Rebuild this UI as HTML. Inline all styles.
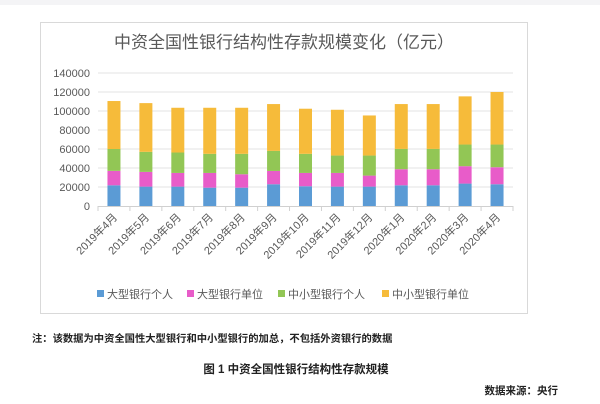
<!DOCTYPE html>
<html><head><meta charset="utf-8">
<style>
body{margin:0;background:#fff;width:600px;height:404px;overflow:hidden;font-family:"Liberation Sans","Noto Sans CJK SC",sans-serif;}
svg{position:absolute;left:0;top:0}
</style></head>
<body>
<svg width="600" height="404">
<rect x="0" y="0" width="600" height="5" fill="#f4f4f6"/>
<rect x="40.5" y="22.5" width="487" height="291" fill="#fff" stroke="#d9d9d9"/>
<text x="284" y="48" font-size="17" fill="#595959" text-anchor="middle">中资全国性银行结构性存款规模变化（亿元）</text>
<g id="grid"></g><g id="bars"></g><g id="xl"></g>
<g font-size="11" fill="#595959">
<rect x="97" y="290" width="7" height="7" fill="#5b9bd5"/><text x="107" y="298">大型银行个人</text>
<rect x="187" y="290" width="7" height="7" fill="#e85cc9"/><text x="197" y="298">大型银行单位</text>
<rect x="278" y="290" width="7" height="7" fill="#92c655"/><text x="288" y="298">中小型银行个人</text>
<rect x="382" y="290" width="7" height="7" fill="#f6bb3a"/><text x="392" y="298">中小型银行单位</text>
</g>
<text x="32" y="342" font-size="10.3" font-weight="bold" fill="#222">注：该数据为中资全国性大型银行和中小型银行的加总，不包括外资银行的数据</text>
<text x="296" y="373" font-size="11.5" font-weight="bold" fill="#222" text-anchor="middle">图 1 中资全国性银行结构性存款规模</text>
<text x="558" y="394" font-size="10.5" font-weight="bold" fill="#222" text-anchor="end">数据来源：央行</text>
</svg>
<script>
const categories=["2019年4月","2019年5月","2019年6月","2019年7月","2019年8月","2019年9月","2019年10月","2019年11月","2019年12月","2020年1月","2020年2月","2020年3月","2020年4月"];
const largePersonal=[21800,20400,20400,19300,19300,22900,20800,20400,20400,21800,21800,23600,22900];
const largeCorporate=[15200,15500,14400,15500,14100,14000,14000,14400,11600,16900,16900,18300,17900];
const smallPersonal=[23000,21100,21500,20100,21500,21100,20100,18300,21100,21400,21400,22800,23900];
const smallCorporate=[50500,51300,47100,48500,48500,49300,47500,48200,42200,47200,47200,50700,55300];
const yTicks=[0,20000,40000,60000,80000,100000,120000,140000];
const series=[[largePersonal,"#5b9bd5","large-personal"],[largeCorporate,"#e85cc9","large-corporate"],[smallPersonal,"#92c655","small-personal"],[smallCorporate,"#f6bb3a","small-corporate"]];
const NS="http://www.w3.org/2000/svg";
const x0=98,x1=513,y0=206,y1=73,yMax=140000;
const step=(x1-x0)/categories.length,bw=13;
const ys=v=>y0-(v/yMax)*(y0-y1);
const xc=i=>x0+step*(i+0.5);
function mk(t,a,p){const e=document.createElementNS(NS,t);for(const k in a)e.setAttribute(k,a[k]);p.appendChild(e);return e;}
const grid=document.getElementById('grid');
yTicks.forEach(v=>{
 if(v>0){const l=mk('line',{x1:x0,x2:x1,y1:ys(v),y2:ys(v),stroke:'#e3e3e3'},grid);
 
 }
 const t=mk('text',{x:90,y:ys(v)+4,'font-size':11,fill:'#595959','text-anchor':'end'},grid);t.textContent=v;
 
 
});
const ax=mk('line',{x1:x0,x2:x1,y1:y0+0.5,y2:y0+0.5,stroke:'#d0d0d0'},grid);


for(let i=0;i<=categories.length;i++){const tk=mk('line',{x1:x0+step*i,x2:x0+step*i,y1:y0,y2:y0+5,stroke:'#d0d0d0'},grid);
 
 }
const bars=document.getElementById('bars'),xl=document.getElementById('xl');
categories.forEach((c,i)=>{
 let base=0;
 series.forEach(s=>{const v=s[0][i];
  const r=mk('rect',{x:xc(i)-bw/2,y:ys(base+v),width:bw,height:ys(base)-ys(base+v),fill:s[1]},bars);
  
  
  base+=v;});
 const t=mk('text',{x:xc(i)+4,y:y0+12,'font-size':11,fill:'#595959','text-anchor':'end',transform:`rotate(-45 ${xc(i)+4} ${y0+12})`},xl);
 t.textContent=c;
 
 
});
</script>
</body></html>
